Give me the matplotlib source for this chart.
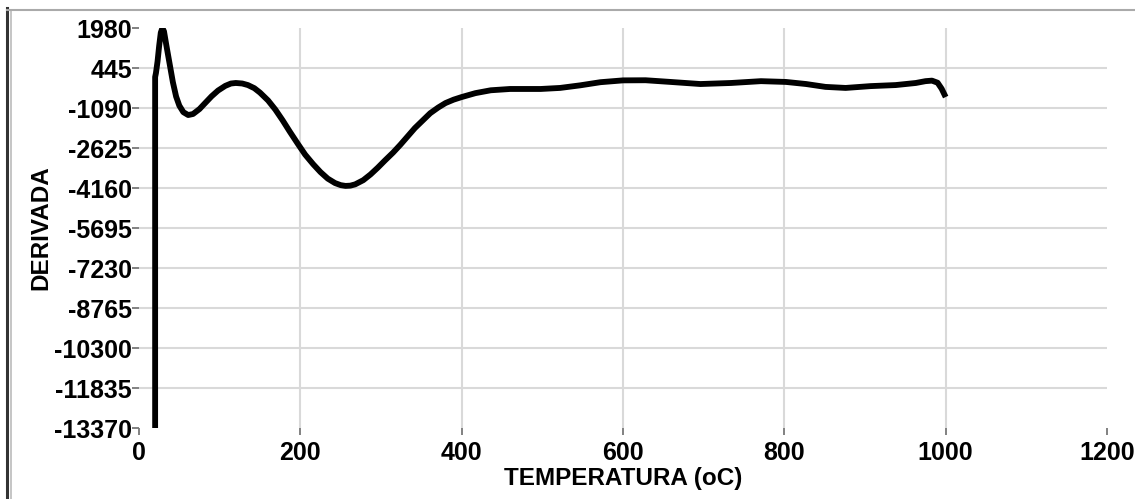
import matplotlib
matplotlib.use("Agg")
from matplotlib import pyplot as plt
from matplotlib.lines import Line2D

# Readings (temperature in oC, derivative)
temperatura = [20, 20, 21, 23, 25, 27, 29, 31, 34, 38, 42, 46, 50, 55, 61,
               67, 75, 82, 90, 98, 107, 114, 120, 128, 135, 143, 150, 160,
               169, 178, 187, 197, 206, 216, 225, 234, 243, 250, 256, 262,
               268, 278, 287, 296, 305, 315, 324, 333, 342, 352, 361, 371,
               380, 390, 400, 417, 436, 460, 498, 522, 547, 572, 600, 628,
               659, 696, 734, 771, 802, 827, 851, 876, 907, 938, 963, 975,
               983, 990, 995, 1000]
derivada = [-13370, 100, 250, 700, 1300, 1800, 1980, 1850, 1300, 600, -100,
            -650, -1000, -1250, -1360, -1320, -1130, -900, -640, -420, -240,
            -150, -130, -150, -210, -330, -500, -800, -1150, -1560, -2000,
            -2470, -2880, -3250, -3550, -3800, -3970, -4050, -4080, -4070,
            -4020, -3860, -3640, -3380, -3100, -2800, -2500, -2180, -1860,
            -1560, -1290, -1070, -900, -770, -670, -520, -410, -360, -360,
            -320, -220, -100, -30, -25, -90, -170, -130, -60, -90, -170,
            -280, -320, -250, -210, -130, -60, -40, -120, -350, -670]

yticks = [1980, 445, -1090, -2625, -4160, -5695, -7230, -8765, -10300,
          -11835, -13370]
xticks = [0, 200, 400, 600, 800, 1000, 1200]

plt.rcParams['font.family'] = ['Liberation Sans', 'DejaVu Sans']

fig = plt.figure(figsize=(11.35, 4.99), dpi=100)
ax = fig.add_axes([139 / 1135, 71 / 499, (1107 - 139) / 1135, 400 / 499])

# gridlines only on the interior ticks
for y in yticks[1:-1]:
    ax.axhline(y, color='#d9d9d9', lw=1.5, zorder=0)
for x in xticks[1:-1]:
    ax.axvline(x, color='#d9d9d9', lw=1.5, zorder=0)

ax.plot(temperatura, derivada, color='black', lw=4.2,
        solid_joinstyle='round', solid_capstyle='butt', zorder=3)

ax.set_xlim(0, 1200)
ax.set_ylim(-13370, 1980)
ax.set_xticks(xticks)
ax.set_yticks(yticks)
ax.set_xticklabels([str(v) for v in xticks], fontweight='bold', fontsize=18)
ax.set_yticklabels([str(v) for v in yticks], fontweight='bold', fontsize=18)
ax.tick_params(axis='both', color='#777777', length=5, width=1.3, pad=0)
ax.tick_params(axis='x', pad=4.5)
for s in ax.spines.values():
    s.set_visible(False)

ax.set_xlabel('TEMPERATURA (oC)', fontweight='bold', fontsize=17.5, labelpad=1)
ax.set_ylabel('DERIVADA', fontweight='bold', fontsize=17.5, labelpad=1)

# page frame on the left and top
fig.add_artist(Line2D([7 / 1135, 7 / 1135], [0, 1 - 8 / 499], color='#333333', lw=2.2))
fig.add_artist(Line2D([10.5 / 1135, 10.5 / 1135], [0, 1 - 10 / 499], color='#bbbbbb', lw=1.2))
fig.add_artist(Line2D([7 / 1135, 1], [1 - 9.5 / 499, 1 - 9.5 / 499], color='#aaaaaa', lw=1.5))

fig.savefig('out.png', dpi=100)
